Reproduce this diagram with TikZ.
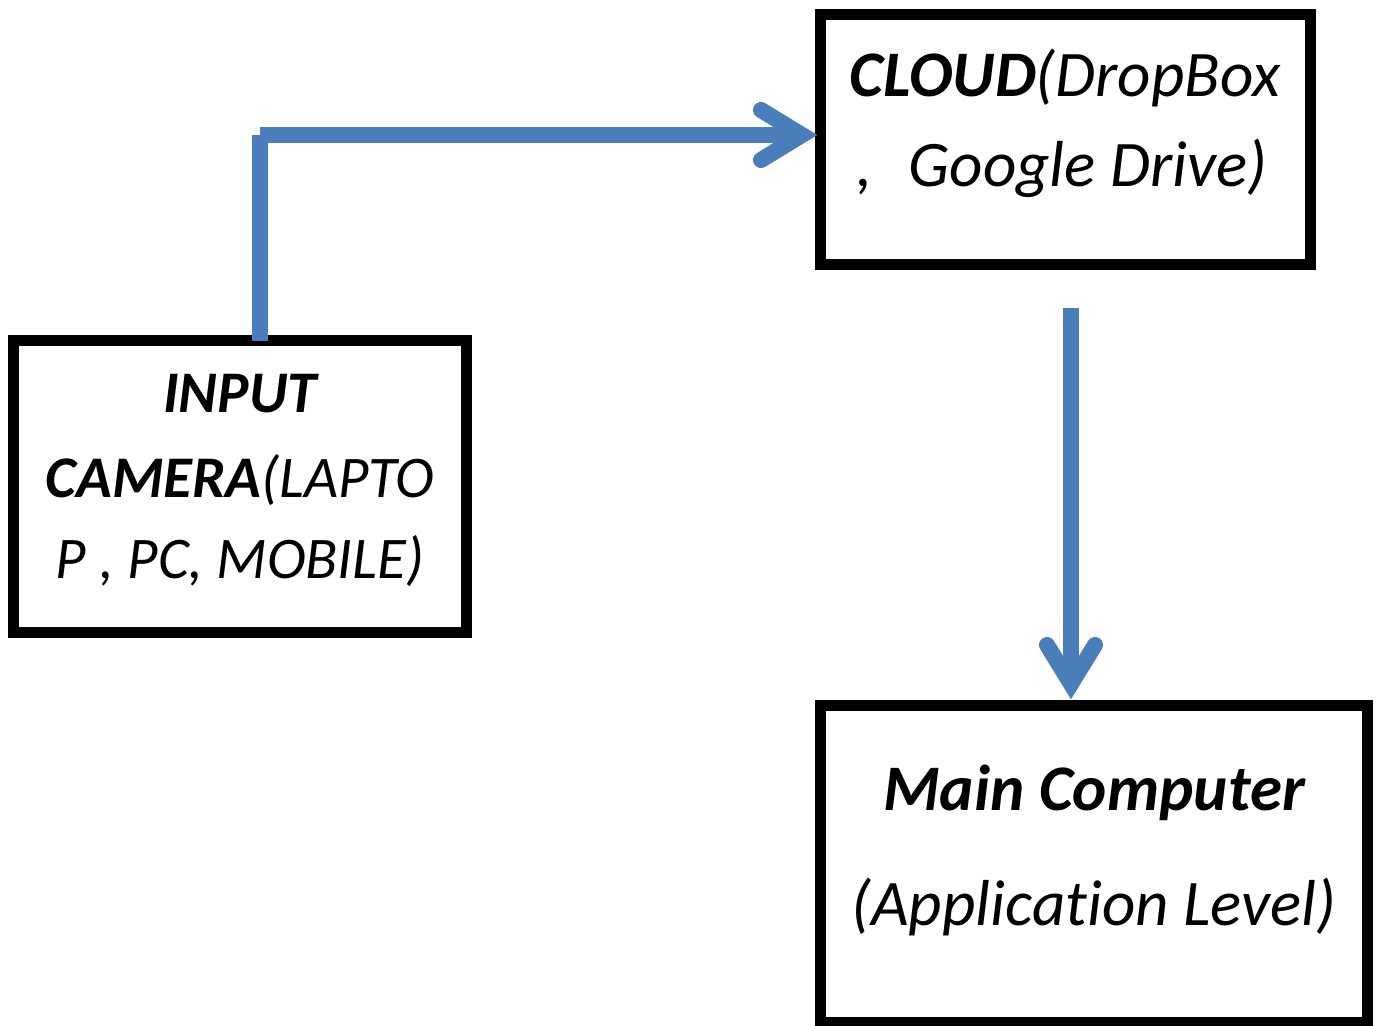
\documentclass[tikz,border=0pt]{standalone}
\usepackage{fontspec}
\setmainfont{Carlito}[RawFeature=-liga]
\usetikzlibrary{calc}
\definecolor{flowblue}{RGB}{74,126,187}
\begin{document}
\begin{tikzpicture}[x=0.5pt,y=-0.5pt,
  box/.style={draw=black, line width=5.5pt, rectangle, inner sep=0pt, outer sep=0pt},
  txt/.style={font=\fontsize{29.5}{36}\selectfont\itshape, inner sep=0pt, anchor=base},
  bigtxt/.style={txt, font=\fontsize{32.5}{40}\selectfont\itshape},
  flow/.style={draw=flowblue, line width=8pt},
  head/.style={draw=flowblue, line width=8pt, line cap=round, line join=miter, miter limit=10},
]
\useasboundingbox (0,0) rectangle (1376,1026);

% boxes
\node[box, minimum width=226.5pt, minimum height=145.5pt] (input) at (239.5,486.5) {};
\node[box, minimum width=245pt,   minimum height=125pt]   (cloud) at (1065,140) {};
\node[box, minimum width=273.5pt, minimum height=158.5pt] (main)  at (1093.5,863.5) {};

% box texts
\node[txt] (in1) at (240,413) {\textbf{INPUT}};
\node[txt] (in2) at (240,497) {\textbf{CAMERA}(LAPTO};
\node[txt] (in3) at (240,578) {P , PC, MOBILE)};

\node[bigtxt] (cl1) at (1065,97)  {\textbf{CLOUD}(DropBox};
\node[bigtxt] (cl2) at (1062,187) {,\hspace{0.55em}Google Drive)};

\node[bigtxt] (mc1) at (1094,810) {\textbf{Main Computer}};
\node[bigtxt] (mc2) at (1094,925) {(Application Level)};

% input -> cloud
\coordinate (corner) at ($(input.north west)+(247,-206)$);
\coordinate (tipA)   at ($(cloud.west)+(-18,-5)$);
\draw[flow] ($(input.north west)+(247,0)$) -- (corner);
\draw[flow] (corner) -- (tipA);
\draw[head] ($(tipA)+(-41,-25)$) -- (tipA) -- ($(tipA)+(-41,25)$);

% cloud -> main computer
\coordinate (startB) at ($(cloud.south)+(6,43)$);
\coordinate (tipB)   at ($(main.north)+(-22.5,-21)$);
\draw[flow] (startB) -- (tipB);
\draw[head] ($(tipB)+(-24,-39)$) -- (tipB) -- ($(tipB)+(24,-39)$);
\end{tikzpicture}
\end{document}
